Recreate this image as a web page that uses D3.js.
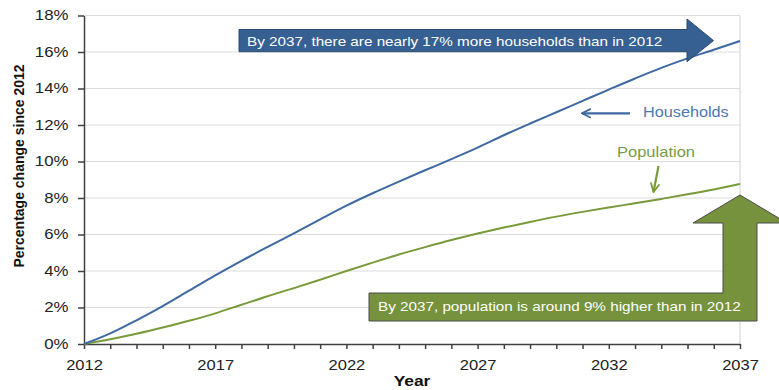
<!DOCTYPE html>
<html>
<head>
<meta charset="utf-8">
<script src="https://cdn.jsdelivr.net/npm/d3@7"></script>
<style>
	html, body { margin: 0; padding: 0; background: #fff; }
	svg { display: block; font-family: "Liberation Sans", Arial, sans-serif; }
	.axis path, .axis line { stroke: #404040; stroke-width: 1.5px; }
	.axis text { fill: #222; font-size: 14px; }
	.grid line { stroke: #dcdcdc; stroke-width: 1px; }
</style>
</head>
<body>
<div id="chart"></div>
<script>
// Percentage change since 2012.
var years = [ 2012, 2013, 2014, 2015, 2016, 2017, 2018, 2019, 2020, 2021, 2022, 2023, 2024,
	2025, 2026, 2027, 2028, 2029, 2030, 2031, 2032, 2033, 2034, 2035, 2036, 2037 ];
var households = [ 0, 0.58, 1.3, 2.08, 2.92, 3.76, 4.56, 5.32, 6.06, 6.83, 7.58, 8.26, 8.9,
	9.52, 10.13, 10.76, 11.44, 12.08, 12.7, 13.32, 13.94, 14.55, 15.13, 15.65, 16.12, 16.6 ];
var population = [ 0, 0.26, 0.56, 0.9, 1.27, 1.68, 2.15, 2.62, 3.06, 3.52, 4.0, 4.46, 4.9,
	5.31, 5.7, 6.05, 6.38, 6.69, 6.98, 7.24, 7.48, 7.71, 7.95, 8.2, 8.47, 8.77 ];
var yTicks = [ 0, 2, 4, 6, 8, 10, 12, 14, 16, 18 ];
var xLabels = [ 2012, 2017, 2022, 2027, 2032, 2037 ];

( function () {

	var width = 779, height = 390;
	var margins = { top: 15.5, left: 84, bottom: 46, right: 39 };

	var blue = '#3e69a2';
	var green = '#789a3a';

	var svg = d3.select( '#chart' ).append( 'svg' )
		.attr( 'width', width )
		.attr( 'height', height );

	var xScale = d3.scaleLinear()
		.domain( [ 2012, 2037 ] )
		.range( [ margins.left, width - margins.right ] );
	var yScale = d3.scaleLinear()
		.domain( [ 0, 18 ] )
		.range( [ height - margins.bottom, margins.top ] );

	// Text in the picture is a little wider than the font, so stretch it.
	var label = function ( x, y, size, fill, str, sx ) {
		return svg.append( 'text' )
			.attr( 'transform', 'translate( ' + x + ', ' + y + ' ) scale( ' + sx + ', 1 )' )
			.attr( 'font-size', size + 'px' )
			.attr( 'fill', fill )
			.text( str );
	};

	// Gridlines and right border.
	svg.append( 'g' )
		.attr( 'class', 'grid' )
		.selectAll( 'line' )
		.data( yTicks.slice( 1 ) )
		.enter()
		.append( 'line' )
		.attr( 'x1', xScale( 2012 ) )
		.attr( 'x2', xScale( 2037 ) )
		.attr( 'y1', function ( d ) { return yScale( d ); } )
		.attr( 'y2', function ( d ) { return yScale( d ); } );

	svg.append( 'line' )
		.attr( 'x1', xScale( 2037 ) ).attr( 'x2', xScale( 2037 ) )
		.attr( 'y1', yScale( 18 ) ).attr( 'y2', yScale( 0 ) )
		.attr( 'stroke', '#d0d0d0' );

	// Axes.
	var xAxis = d3.axisBottom( xScale )
		.tickValues( years )
		.tickSize( 5 )
		.tickSizeOuter( 0 )
		.tickPadding( 6 )
		.tickFormat( function ( d ) { return xLabels.indexOf( d ) > -1 ? d : ''; } );

	var gx = svg.append( 'g' )
		.attr( 'class', 'x axis' )
		.attr( 'transform', 'translate( 0, ' + yScale( 0 ) + ' )' )
		.call( xAxis );
	gx.selectAll( 'text' )
		.attr( 'dy', '1.05em' )
		.attr( 'transform', 'scale( 1.18, 1 )' );

	var yAxis = d3.axisLeft( yScale )
		.tickValues( yTicks )
		.tickSize( 6 )
		.tickSizeOuter( 0 )
		.tickFormat( function ( d ) { return d + '%'; } );

	var gy = svg.append( 'g' )
		.attr( 'class', 'y axis' )
		.attr( 'transform', 'translate( ' + xScale( 2012 ) + ', 0 )' )
		.call( yAxis );
	gy.selectAll( 'text' )
		.attr( 'x', -13 )
		.attr( 'transform', 'scale( 1.2, 1 )' );

	// Axis titles.
	svg.append( 'text' )
		.attr( 'transform', 'translate( 24, 166 ) rotate( -90 )' )
		.attr( 'text-anchor', 'middle' )
		.attr( 'font-size', '14px' )
		.attr( 'font-weight', 'bold' )
		.attr( 'fill', '#111' )
		.text( 'Percentage change since 2012' );

	label( 412, 386, 14.5, '#111', 'Year', 1.2 )
		.attr( 'text-anchor', 'middle' )
		.attr( 'font-weight', 'bold' );

	// The two lines.
	var line = function ( values ) {
		return d3.line()
			.curve( d3.curveMonotoneX )
			.x( function ( d, i ) { return xScale( years[i] ); } )
			.y( function ( d ) { return yScale( d ); } )( values );
	};

	svg.append( 'path' )
		.attr( 'd', line( population ) )
		.attr( 'fill', 'none' )
		.attr( 'stroke', green )
		.attr( 'stroke-width', 2 );

	svg.append( 'path' )
		.attr( 'd', line( households ) )
		.attr( 'fill', 'none' )
		.attr( 'stroke', blue )
		.attr( 'stroke-width', 2 );

	// Blue callout arrow.
	svg.append( 'path' )
		.attr( 'd', 'M239,29.5 L687,29.5 L687,19 L713.5,40.6 L687,61.7 L687,51.7 L239,51.7 Z' )
		.attr( 'fill', '#376092' )
		.attr( 'stroke', '#2c4a6e' )
		.attr( 'stroke-width', 1 );

	label( 247, 45.5, 13.5, '#fff', 'By 2037, there are nearly 17% more households than in 2012', 1.13 );

	// Green callout arrow.
	svg.append( 'path' )
		.attr( 'd', 'M369,293 L723,293 L723,223 L693,223 L740,195 L787,223 L757,223 L757,321 L369,321 Z' )
		.attr( 'fill', '#76923c' )
		.attr( 'stroke', '#4a4a4a' )
		.attr( 'stroke-width', 1 );

	label( 378, 311, 13.5, '#fff', 'By 2037, population is around 9% higher than in 2012', 1.13 );

	// Series labels with small arrows.
	var defs = svg.append( 'defs' );
	[ [ 'headBlue', blue ], [ 'headGreen', green ] ].forEach( function ( m ) {
		defs.append( 'marker' )
			.attr( 'id', m[0] )
			.attr( 'viewBox', '0 0 10 10' )
			.attr( 'refX', 9 )
			.attr( 'refY', 5 )
			.attr( 'markerWidth', 5 )
			.attr( 'markerHeight', 5 )
			.attr( 'orient', 'auto' )
			.append( 'path' )
			.attr( 'd', 'M1,1 L9,5 L1,9' )
			.attr( 'fill', 'none' )
			.attr( 'stroke', m[1] )
			.attr( 'stroke-width', 1.6 );
	} );

	svg.append( 'line' )
		.attr( 'x1', 630 ).attr( 'y1', 113.3 )
		.attr( 'x2', 582 ).attr( 'y2', 113.3 )
		.attr( 'stroke', blue )
		.attr( 'stroke-width', 2.2 )
		.attr( 'marker-end', 'url(#headBlue)' );

	label( 643, 117, 14, '#4a78b3', 'Households', 1.16 );

	svg.append( 'line' )
		.attr( 'x1', 658.5 ).attr( 'y1', 166 )
		.attr( 'x2', 653.5 ).attr( 'y2', 192 )
		.attr( 'stroke', green )
		.attr( 'stroke-width', 2.2 )
		.attr( 'marker-end', 'url(#headGreen)' );

	label( 617, 157, 14, '#7c9a44', 'Population', 1.18 );

} )();
</script>
</body>
</html>
